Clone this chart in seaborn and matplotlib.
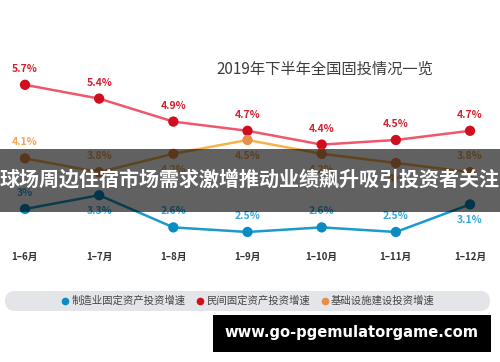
import pandas as pd
import matplotlib.pyplot as plt
from matplotlib.patches import FancyBboxPatch, Rectangle
from matplotlib.lines import Line2D
import seaborn as sns

# data
months = ['1–6月', '1–7月', '1–8月', '1–9月', '1–10月', '1–11月', '1–12月']
manufacturing = [3.0, 3.3, 2.6, 2.5, 2.6, 2.5, 3.1]
private = [5.7, 5.4, 4.9, 4.7, 4.4, 4.5, 4.7]
infrastructure = [4.1, 3.8, 4.2, 4.5, 4.2, 4.0, 3.8]
series_names = ['制造业固定资产投资增速', '民间固定资产投资增速', '基础设施建设投资增速']

# where each value label sits: 1 above, -1 below
manu_side = [1, -1, 1, 1, 1, 1, -1]
private_side = [1, 1, 1, 1, 1, 1, 1]
infra_side = [1, 1, -1, -1, -1, -1, 1]

sns.set_style('white')
plt.rcParams['font.family'] = ['Noto Sans CJK SC', 'DejaVu Sans']

rows = []
for name, vals in zip(series_names, [manufacturing, private, infrastructure]):
    for i, v in enumerate(vals):
        rows.append({'series': name, 'x': i, 'value': v})
df = pd.DataFrame(rows)

line_cols = {series_names[0]: '#1a9bcc', series_names[1]: '#f0566c',
             series_names[2]: '#f8b24c'}
dot_cols = {series_names[0]: '#0a8cc2', series_names[1]: '#cf0f1e',
            series_names[2]: '#e88e48'}
text_cols = {series_names[0]: '#35a9dc', series_names[1]: '#d42030',
             series_names[2]: '#f2a455'}

fig = plt.figure(figsize=(5, 3.62), dpi=100)
ax = fig.add_axes([0, 117 / 362, 1, 205 / 362])

sns.lineplot(data=df, x='x', y='value', hue='series', palette=line_cols,
             linewidth=1.8, legend=False, ax=ax)
sns.scatterplot(data=df, x='x', y='value', hue='series', palette=dot_cols,
                s=55, edgecolor='none', legend=False, ax=ax, zorder=3)

for name, vals, sides in zip(series_names,
                             [manufacturing, private, infrastructure],
                             [manu_side, private_side, infra_side]):
    for i, (v, s) in enumerate(zip(vals, sides)):
        ax.annotate(f'{v:g}%', (i, v), xytext=(0, 11.5 * s),
                    textcoords='offset points', ha='center', va='center',
                    color=text_cols[name], fontsize=7.5, fontweight='bold')

ax.set_xlim(-0.337, 6.404)
ax.set_ylim(2.217, 6.674)
ax.set_xticks(range(len(months)))
ax.set_xticklabels(months, fontsize=7, fontweight='bold', color='#333333')
ax.tick_params(axis='x', length=0, pad=5)
ax.set_yticks([])
ax.set_xlabel('')
ax.set_ylabel('')
sns.despine(ax=ax, left=True, bottom=True)
ax.patch.set_alpha(0)

fig.text(0.65, 1 - 69 / 362, '2019年下半年全国固投情况一览', ha='center',
         va='center', fontsize=11, color='#3c3c3c')

# legend bar
fig.patches.append(FancyBboxPatch((0.05, 0.51), 4.85, 0.2,
                                  boxstyle='round,pad=0,rounding_size=0.1',
                                  transform=fig.dpi_scale_trans,
                                  facecolor='#e4e5e8', edgecolor='none'))
handles = [Line2D([], [], marker='o', ls='', color=dot_cols[n], markersize=4.5)
           for n in series_names]
fig.legend(handles, series_names, ncol=3, loc='center',
           bbox_to_anchor=(0.497, 1 - 301 / 362), frameon=False, fontsize=7.5,
           handlelength=0.6, handletextpad=0.3, columnspacing=1.1,
           labelcolor='#444444')

# headline banner
fig.patches.append(Rectangle((0, (362 - 212) / 362), 1, 63 / 362,
                             transform=fig.transFigure, facecolor='black',
                             alpha=0.62, edgecolor='none'))
fig.text(0.5, 1 - 179 / 362, '球场周边住宿市场需求激增推动业绩飙升吸引投资者关注',
         ha='center', va='center', fontsize=14.4, fontweight='bold',
         color='white')

# watermark
fig.patches.append(Rectangle((2.13, 0.10), 2.78, 0.37,
                             transform=fig.dpi_scale_trans,
                             facecolor='black', edgecolor='none'))
fig.text(351 / 500, 1 - 333 / 362, 'www.go-pgemulatorgame.com', ha='center',
         va='center', fontsize=10.6, fontweight='bold', color='white',
         family='DejaVu Sans')

fig.savefig('out.png', dpi=100)
